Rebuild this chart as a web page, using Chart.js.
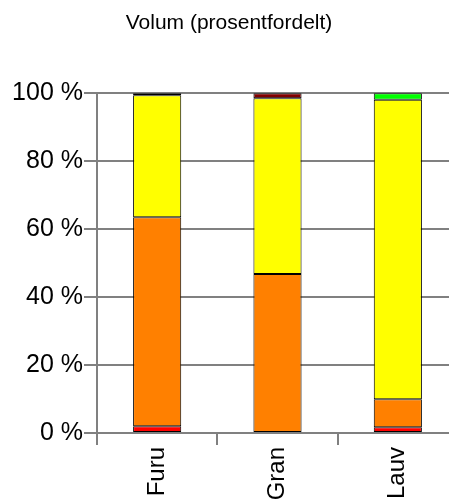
<!DOCTYPE html>
<html>
<head>
<meta charset="utf-8">
<script src="https://cdn.jsdelivr.net/npm/chart.js@4/dist/chart.umd.min.js"></script>
<style>
  html, body { margin: 0; padding: 0; overflow: hidden; background: #fff; }
  #wrap { width: 458px; height: 500px; }
</style>
</head>
<body>
<div id="wrap"><canvas id="chart1"></canvas></div>
<script>
// categories and stacked shares (percent), bottom to top
var labels = ["Furu", "Gran", "Lauv"];
var red = [2.0, null, 1.7];
var orange = [61.5, 46.8, 8.2];
var yellow = [35.9, 51.7, 88.2];
var darkRed = [null, 1.5, null];
var black = [0.6, null, null];
var green = [null, null, 1.9];
var yTicks = [0, 20, 40, 60, 80, 100];

var grey = "#808080";
var font = "'Liberation Sans', Arial, sans-serif";

function ds(data, color) {
	return {
		data: data,
		backgroundColor: color,
		borderColor: "#000",
		borderWidth: 1,
		borderSkipped: false,
		barPercentage: 0.4,
		categoryPercentage: 1
	};
}

var ctx = document.getElementById("chart1").getContext("2d");
new Chart(ctx, {
	type: 'bar',
	data: {
		labels: labels,
		datasets: [
			ds(red, "#ff0000"),
			ds(orange, "#ff8000"),
			ds(yellow, "#ffff00"),
			ds(darkRed, "#800000"),
			ds(black, "#000000"),
			ds(green, "#00ff00")
		]
	},
	options: {
		responsive: true,
		maintainAspectRatio: false,
		animation: false,
		layout: { padding: 0 },
		plugins: {
			legend: { display: false },
			tooltip: { enabled: false },
			title: {
				display: true,
				text: "Volum (prosentfordelt)",
				color: "#000",
				font: { family: font, size: 21, weight: 'normal' },
				padding: { top: 11, bottom: 57 }
			}
		},
		scales: {
			x: {
				stacked: true,
				border: { color: grey, width: 2 },
				grid: { offset: true, drawOnChartArea: false, color: grey, lineWidth: 2, tickLength: 12 },
				ticks: {
					color: "#000",
					font: { family: font, size: 24 },
					minRotation: 90,
					maxRotation: 90,
					padding: 2
				},
				afterFit: function (s) { s.height = 67; }
			},
			y: {
				stacked: true,
				min: 0,
				max: 100,
				afterBuildTicks: function (s) { s.ticks = yTicks.map(function (v) { return { value: v }; }); },
				border: { color: grey, width: 2 },
				grid: { color: grey, lineWidth: 2, tickLength: 13 },
				ticks: {
					color: "#000",
					font: { family: font, size: 25 },
					padding: 1,
					callback: function (v) { return v + " %"; }
				},
				afterFit: function (s) { s.width = 97; }
			}
		}
	}
});
</script>
</body>
</html>
